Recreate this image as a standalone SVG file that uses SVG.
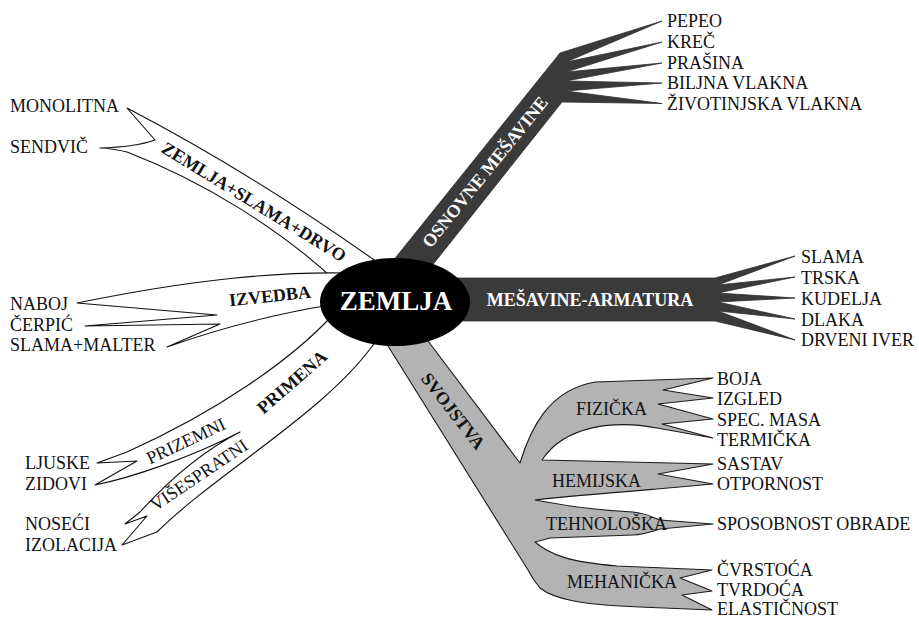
<svg xmlns="http://www.w3.org/2000/svg" width="919" height="619" viewBox="0 0 919 619">
<style>
text{font-family:"Liberation Serif","Times New Roman",serif;font-size:18px;fill:#111}
.b{font-weight:bold}
.w{fill:#fff}
.c{text-anchor:middle}
.wb{fill:#fff;stroke:#111;stroke-width:1.1;stroke-linejoin:round}
.gr{fill:#b3b3b3;stroke:#1a1a1a;stroke-width:1.1;stroke-linejoin:round}
.dk{fill:#3a3a3a;stroke:#2e2e2e;stroke-width:0.8;stroke-linejoin:round}
</style>
<rect width="919" height="619" fill="#fff"/>
<g id="connectors">
<path id="shape-zsd" class="wb" d="M377,262 Q255,175 127,108 L155,140 Q135,147 100,148 Q115,149 127,152 C200,180 280,228 340,285 Z"/>
<path id="shape-izvedba" class="wb" d="M345,273 C280,272 200,278 77,303 L217,315 L85,326 L220,324 L167,347 Q250,318 330,305 Z"/>
<path id="shape-primena" class="wb" d="M330,318 C290,360 220,410 127,452 L97,463 L137,461 L95,485 C130,478 190,458 240,432 C195,455 160,490 140,512 L125,524 L147,516 L122,545 L157,532 C220,470 330,410 378,338 Z"/>
<path id="shape-svojstva" class="gr" d="M416,325 L520,463 C530,430 548,390 595,382 L713,378 L663,390 L713,398 L658,404 L713,419 L662,424 L713,438 L657,428 C615,420 565,425 542,460 L713,464 L658,474 L713,484 L657,489 C620,492 570,496 535,500 C555,503 575,509 633,512 C645,513 652,517 660,520 L713,524 L660,529 C648,533 640,535 633,535 L550,538 L535,542 C550,555 570,562 617,566 L712,570 L680,578 L712,591 L682,595 L712,610 L640,607 C585,605 555,600 540,588 C535,582 532,578 528,570 L378,330 Z"/>
<path id="shape-osnovne" class="dk" d="M384,272 L560,53 L662,21 L566,62 L662,42 L566,72 L662,63 L566,81 L662,83 L566,91 L662,103.5 L562,102 L427,272 Z"/>
<path id="shape-armatura" class="dk" d="M440,278 L715,278 L795,256 L718,285 L795,277 L718,293 L795,298 L718,302 L795,319 L718,311 L795,340 L715,321 L440,321 Z"/>
</g>
<g id="node-zemlja">
<ellipse cx="395" cy="302" rx="75" ry="44" fill="#000"/>
<text class="b w c" x="396" y="310" style="font-size:27px">ZEMLJA</text>
</g>
<g id="node-osnovne">
<text class="b w c" transform="translate(485,172) rotate(-51)" y="6">OSNOVNE MEŠAVINE</text>
<text x="667" y="27">PEPEO</text>
<text x="667" y="48">KREČ</text>
<text x="667" y="68.5">PRAŠINA</text>
<text x="667" y="89">BILJNA VLAKNA</text>
<text x="667" y="109.5">ŽIVOTINJSKA VLAKNA</text>
</g>
<g id="node-armatura">
<text class="b w c" x="590" y="306">MEŠAVINE-ARMATURA</text>
<text x="801" y="263">SLAMA</text>
<text x="801" y="284">TRSKA</text>
<text x="801" y="305">KUDELJA</text>
<text x="801" y="326">DLAKA</text>
<text x="801" y="346">DRVENI IVER</text>
</g>
<g id="node-svojstva">
<text class="b c" transform="translate(453,411) rotate(52)" y="6">SVOJSTVA</text>
<text x="576" y="415">FIZIČKA</text>
<text x="552" y="487">HEMIJSKA</text>
<text x="546" y="530">TEHNOLOŠKA</text>
<text x="567" y="588">MEHANIČKA</text>
<text x="717" y="385">BOJA</text>
<text x="717" y="405">IZGLED</text>
<text x="717" y="426">SPEC. MASA</text>
<text x="717" y="446">TERMIČKA</text>
<text x="717" y="470">SASTAV</text>
<text x="717" y="490">OTPORNOST</text>
<text x="717" y="530">SPOSOBNOST OBRADE</text>
<text x="717" y="576">ČVRSTOĆA</text>
<text x="717" y="596">TVRDOĆA</text>
<text x="717" y="615">ELASTIČNOST</text>
</g>
<g id="node-zsd">
<text class="b c" transform="translate(254,202) rotate(31.5)" y="6">ZEMLJA+SLAMA+DRVO</text>
<text x="10" y="112">MONOLITNA</text>
<text x="10" y="153">SENDVIČ</text>
</g>
<g id="node-izvedba">
<text class="b c" transform="translate(270,296) rotate(-6)" y="6">IZVEDBA</text>
<text x="10" y="310">NABOJ</text>
<text x="10" y="331">ČERPIĆ</text>
<text x="10" y="351">SLAMA+MALTER</text>
</g>
<g id="node-primena">
<text class="b c" transform="translate(292,382) rotate(-41)" y="6">PRIMENA</text>
<text class="c" transform="translate(186,441) rotate(-25)" y="6">PRIZEMNI</text>
<text class="c" transform="translate(199,475) rotate(-34)" y="6">VIŠESPRATNI</text>
<text x="25" y="469">LJUSKE</text>
<text x="25" y="490">ZIDOVI</text>
<text x="25" y="530">NOSEĆI</text>
<text x="25" y="551">IZOLACIJA</text>
</g>
</svg>
